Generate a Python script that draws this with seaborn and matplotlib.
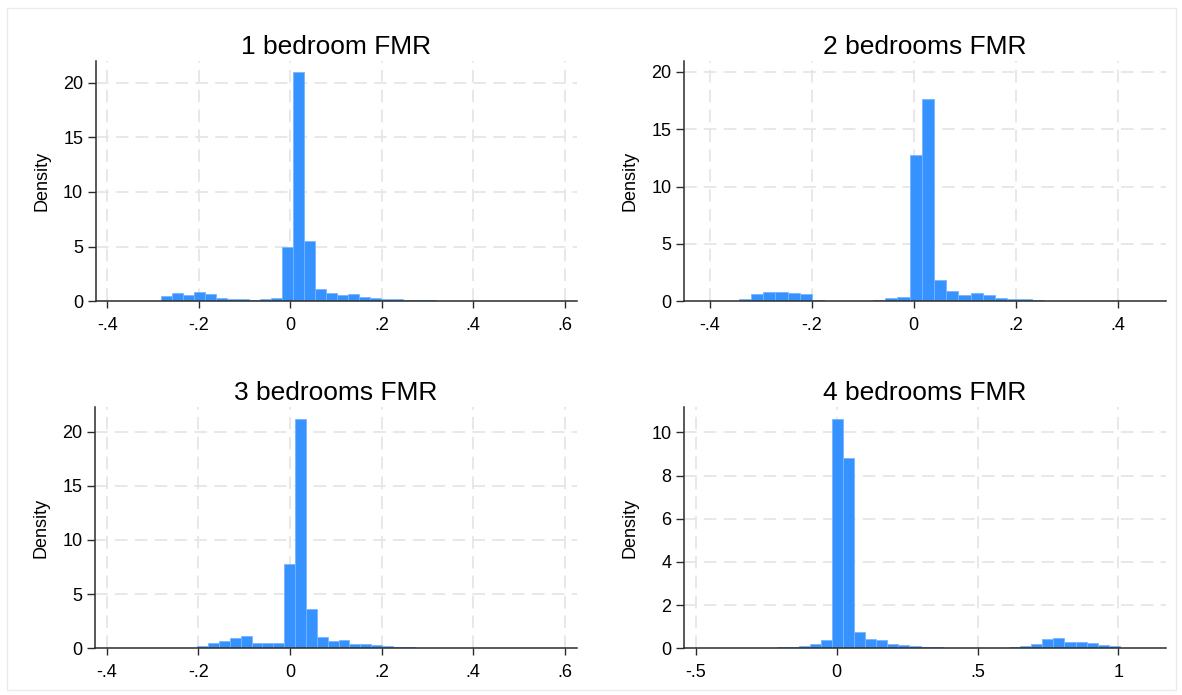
import numpy as np
import pandas as pd
import matplotlib
matplotlib.use("Agg")
import matplotlib.pyplot as plt
import seaborn as sns

# ---- data (density per bin) ----
titles = ["1 bedroom FMR", "2 bedrooms FMR", "3 bedrooms FMR", "4 bedrooms FMR"]

# first bin edge and bin width for each panel
bin_start = [-0.3781, -0.4149, -0.3687, -0.3310]
bin_width = [0.02404, 0.02394, 0.02375, 0.0393]

dens_1br = [0.03, 0.03, 0.03, 0.03, 0.46, 0.76, 0.58, 0.82, 0.67, 0.34,
            0.21, 0.21, 0.12, 0.21, 0.30, 5.00, 20.97, 5.52, 1.13, 0.73,
            0.58, 0.64, 0.43, 0.30, 0.24, 0.18, 0.12, 0.09, 0.09, 0.06,
            0.04, 0.04, 0.03, 0.03, 0.00, 0.00, 0.04]
dens_2br = [0.03, 0.03, 0.03, 0.20, 0.64, 0.78, 0.81, 0.76, 0.61, 0.09,
            0.03, 0.03, 0.05, 0.05, 0.08, 0.26, 0.37, 12.79, 17.60, 1.83,
            0.87, 0.55, 0.70, 0.58, 0.26, 0.23, 0.20, 0.12, 0.06, 0.03,
            0.02, 0.02, 0.02, 0.02, 0.03, 0.02, 0.03]
dens_3br = [0.03, 0.03, 0.00, 0.00, 0.02, 0.02, 0.02, 0.25, 0.49, 0.68,
            0.92, 1.11, 0.49, 0.49, 0.49, 7.75, 21.17, 3.60, 1.02, 0.68,
            0.74, 0.40, 0.37, 0.28, 0.18, 0.12, 0.09, 0.06, 0.05, 0.04,
            0.03, 0.00, 0.00, 0.00, 0.03, 0.00, 0.03]
dens_4br = [0.02, 0.00, 0.02, 0.04, 0.05, 0.11, 0.21, 0.40, 10.62, 8.80,
            0.76, 0.45, 0.39, 0.22, 0.15, 0.11, 0.08, 0.04, 0.03, 0.02,
            0.02, 0.02, 0.02, 0.03, 0.04, 0.09, 0.19, 0.43, 0.46, 0.29,
            0.28, 0.23, 0.14, 0.11, 0.03, 0.03, 0.03]
densities = [dens_1br, dens_2br, dens_3br, dens_4br]

xticks = [[-0.4, -0.2, 0, 0.2, 0.4, 0.6],
          [-0.4, -0.2, 0, 0.2, 0.4],
          [-0.4, -0.2, 0, 0.2, 0.4, 0.6],
          [-0.5, 0, 0.5, 1]]
xticklabels = [["-.4", "-.2", "0", ".2", ".4", ".6"],
               ["-.4", "-.2", "0", ".2", ".4"],
               ["-.4", "-.2", "0", ".2", ".4", ".6"],
               ["-.5", "0", ".5", "1"]]
yticks = [[0, 5, 10, 15, 20], [0, 5, 10, 15, 20], [0, 5, 10, 15, 20],
          [0, 2, 4, 6, 8, 10]]

# ---- layout / style ----
xlims = [(-0.4253, 0.626), (-0.4508, 0.4945), (-0.4253, 0.626), (-0.542, 1.168)]
ylims = [(0, 22.0), (0, 20.98), (0, 22.3), (0, 11.19)]

W, H = 1182, 695
axes_px = [(95.7, 60.7, 576.7, 301.3),
           (684.0, 60.7, 1165.7, 301.3),
           (95.0, 406.7, 576.7, 648.3),
           (684.0, 406.7, 1165.7, 648.3)]

sns.set_theme(style="white")
plt.rcParams["font.family"] = ["Liberation Sans", "DejaVu Sans"]
plt.rcParams["text.color"] = "black"
plt.rcParams["axes.labelcolor"] = "black"
plt.rcParams["xtick.color"] = "black"
plt.rcParams["ytick.color"] = "black"

fig = plt.figure(figsize=(W / 100, H / 100), dpi=100)
fig.patch.set_facecolor("white")

bar_color = "#3592FF"
edge_color = "#78B4FF"
grid_color = "#E6E6E6"
axis_color = "#2b2b2b"

for i in range(4):
    x0, y0, x1, y1 = axes_px[i]
    ax = fig.add_axes([x0 / W, 1 - y1 / H, (x1 - x0) / W, (y1 - y0) / H])
    n = len(densities[i])
    edges = bin_start[i] + bin_width[i] * np.arange(n + 1)
    centers = (edges[:-1] + edges[1:]) / 2
    df = pd.DataFrame({"x": centers, "w": densities[i]})
    sns.histplot(data=df, x="x", weights="w", bins=list(edges), stat="count",
                 color=bar_color, edgecolor=edge_color, linewidth=0.6,
                 alpha=1.0, ax=ax, zorder=3)
    ax.set_xlim(*xlims[i])
    ax.set_ylim(*ylims[i])
    ax.set_xticks(xticks[i])
    ax.set_xticklabels(xticklabels[i])
    ax.set_yticks(yticks[i])
    ax.set_yticklabels([str(v) for v in yticks[i]])
    ax.set_xlabel("")
    ax.set_ylabel("Density", fontsize=13, labelpad=9, color="black")
    ax.set_title(titles[i], fontsize=19, pad=5, color="black")

    # dashed gridlines
    for xv in xticks[i]:
        ax.axvline(xv, color=grid_color, lw=1.3, ls=(0, (7, 4)), zorder=1)
    for yv in yticks[i][1:]:
        ax.axhline(yv, color=grid_color, lw=1.3, ls=(0, (7, 4)), zorder=1)

    for s in ["top", "right"]:
        ax.spines[s].set_visible(False)
    for s in ["left", "bottom"]:
        ax.spines[s].set_color(axis_color)
        ax.spines[s].set_linewidth(1.1)
        ax.spines[s].set_zorder(4)
    ax.tick_params(axis="both", which="major", direction="out",
                   width=1.0, color=axis_color, labelsize=13,
                   labelcolor="black", bottom=True, left=True)
    ax.tick_params(axis="y", length=5.8, pad=3.2)
    ax.tick_params(axis="x", length=5.0, pad=6)
    ax.set_facecolor("white")

# light outer frame of the graph region
frame = plt.Rectangle((7 / W, 1 - 690 / H), (1176 - 7) / W, (690 - 8) / H,
                      transform=fig.transFigure, fill=False,
                      edgecolor="#EBEBEB", linewidth=1.0)
fig.add_artist(frame)

fig.savefig("out.png", dpi=100, facecolor="white")
